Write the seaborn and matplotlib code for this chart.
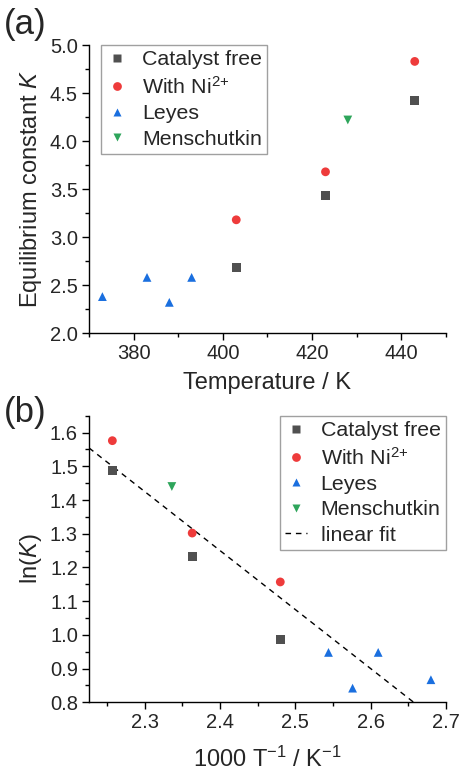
import numpy as np
import pandas as pd
import matplotlib
matplotlib.use("Agg")
import matplotlib.pyplot as plt
from matplotlib.ticker import MultipleLocator, FormatStrFormatter
from matplotlib.lines import Line2D
import seaborn as sns

# ---------------- data ----------------
series_names = ["Catalyst free", "With Ni$^{2\\!+}$", "Leyes", "Menschutkin"]

# panel (a): temperature (K) vs equilibrium constant K
cat_T = [403, 423, 443]
cat_K = [2.68, 3.43, 4.42]
ni_T = [403, 423, 443]
ni_K = [3.18, 3.68, 4.83]
leyes_T = [373, 383, 388, 393]
leyes_K = [2.38, 2.58, 2.32, 2.58]
mensch_T = [428]
mensch_K = [4.22]

# panel (b): 1000/T vs ln(K)
cat_invT = [2.257, 2.363, 2.480]
cat_lnK = [1.487, 1.233, 0.986]
ni_invT = [2.257, 2.363, 2.480]
ni_lnK = [1.576, 1.302, 1.157]
leyes_invT = [2.680, 2.610, 2.576, 2.544]
leyes_lnK = [0.867, 0.948, 0.842, 0.948]
mensch_invT = [2.336]
mensch_lnK = [1.440]

fit_slope = -1.75
fit_intercept = 5.45

# ---------------- style ----------------
sns.set_theme(style="ticks")
plt.rcParams["font.family"] = ["Liberation Sans", "DejaVu Sans"]
plt.rcParams["mathtext.fontset"] = "custom"
plt.rcParams["mathtext.rm"] = "Liberation Sans"
plt.rcParams["mathtext.it"] = "Liberation Sans:italic"
plt.rcParams["axes.edgecolor"] = "black"
plt.rcParams["axes.linewidth"] = 1.0

colors = {series_names[0]: "#505050", series_names[1]: "#EE3B3B",
          series_names[2]: "#1A6FDF", series_names[3]: "#2EA55B"}
markers = {series_names[0]: "s", series_names[1]: "o",
           series_names[2]: "^", series_names[3]: "v"}

def frame(xs, ys):
    rows = []
    for name, x, y in zip(series_names, xs, ys):
        for xi, yi in zip(x, y):
            rows.append({"x": xi, "y": yi, "series": name})
    return pd.DataFrame(rows)

df_a = frame([cat_T, ni_T, leyes_T, mensch_T], [cat_K, ni_K, leyes_K, mensch_K])
df_b = frame([cat_invT, ni_invT, leyes_invT, mensch_invT],
             [cat_lnK, ni_lnK, leyes_lnK, mensch_lnK])

fig = plt.figure(figsize=(4.6, 7.71), dpi=100)
ax1 = fig.add_axes([0.1935, 0.568, 0.776, 0.3735])
ax2 = fig.add_axes([0.1935, 0.0891, 0.776, 0.3717])

FS = 14.5      # tick labels
LFS = 15.4     # legend
AFS = 17       # axis labels
msize = 40
DASH = (0, (4, 3.5))

def style_axis(ax):
    sns.despine(ax=ax)
    ax.tick_params(axis="both", which="major", direction="out", length=5,
                   width=1, labelsize=FS, pad=3, color="black")
    ax.tick_params(axis="both", which="minor", direction="out", length=3,
                   width=1, color="black")

def make_legend(ax, loc, anchor, extra=None):
    handles = []
    for name in series_names:
        handles.append(Line2D([], [], linestyle="none", marker=markers[name],
                              markersize=6.3, markerfacecolor=colors[name],
                              markeredgecolor="none", label=name))
    if extra is not None:
        handles.append(extra)
    leg = ax.legend(handles=handles, loc=loc, bbox_to_anchor=anchor,
                    fontsize=LFS, frameon=True, fancybox=False,
                    borderaxespad=0.0, handlelength=1.0, handletextpad=0.65,
                    labelspacing=0.3, borderpad=0.25)
    leg.get_frame().set_edgecolor("#888888")
    leg.get_frame().set_linewidth(1.0)
    return leg

# ---- panel (a) ----
sns.scatterplot(data=df_a, x="x", y="y", hue="series", style="series",
                palette=colors, markers=markers, s=msize, linewidth=0,
                legend=False, ax=ax1, zorder=3)
ax1.set_xlim(370, 450)
ax1.set_ylim(2.0, 5.0)
ax1.xaxis.set_major_locator(MultipleLocator(20))
ax1.xaxis.set_minor_locator(MultipleLocator(10))
ax1.yaxis.set_major_locator(MultipleLocator(0.5))
ax1.yaxis.set_minor_locator(MultipleLocator(0.25))
ax1.yaxis.set_major_formatter(FormatStrFormatter("%.1f"))
style_axis(ax1)
ax1.set_xlabel("Temperature / K", fontsize=AFS, labelpad=6)
ax1.set_ylabel("Equilibrium constant $\\mathit{K}$", fontsize=AFS, labelpad=4)
make_legend(ax1, "upper left", (0.034, 1.0))

# ---- panel (b) ----
sns.scatterplot(data=df_b, x="x", y="y", hue="series", style="series",
                palette=colors, markers=markers, s=msize, linewidth=0,
                legend=False, ax=ax2, zorder=3)
xlim_b = (2.226, 2.7)
ax2.set_xlim(*xlim_b)
ax2.set_ylim(0.8, 1.65)
fit_x = np.array(xlim_b)
fit_y = fit_intercept + fit_slope * fit_x
ax2.plot(fit_x, fit_y, color="black", linestyle=DASH, linewidth=1.0, zorder=2)
ax2.xaxis.set_major_locator(MultipleLocator(0.1))
ax2.xaxis.set_minor_locator(MultipleLocator(0.05))
ax2.yaxis.set_major_locator(MultipleLocator(0.1))
ax2.yaxis.set_minor_locator(MultipleLocator(0.05))
ax2.yaxis.set_major_formatter(FormatStrFormatter("%.1f"))
ax2.xaxis.set_major_formatter(FormatStrFormatter("%.1f"))
style_axis(ax2)
ax2.set_xlabel("1000 T$^{-1}$ / K$^{-1}$", fontsize=AFS, labelpad=10)
ax2.set_ylabel("ln($\\mathit{K}$)", fontsize=AFS, labelpad=4)
fit_handle = Line2D([], [], color="black", linestyle=DASH, linewidth=1.0,
                    label="linear fit")
make_legend(ax2, "upper right", (1.0, 1.0), extra=fit_handle)

# panel labels
fig.text(0.008, 1 - 8 / 771, "(a)", fontsize=25, va="top", ha="left")
fig.text(0.008, 1 - 396 / 771, "(b)", fontsize=25, va="top", ha="left")

fig.savefig("out.png", dpi=100)
